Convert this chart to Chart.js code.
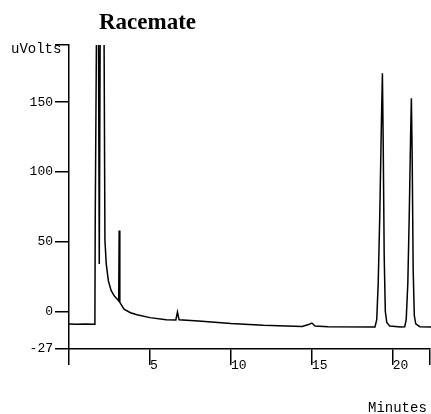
<!DOCTYPE html>
<html><head><meta charset="utf-8">
<script src="https://cdn.jsdelivr.net/npm/chart.js@4"></script>
<style>html,body{margin:0;padding:0;background:#fff;overflow:hidden}#wrap{width:431px;height:414px;position:relative;background:#fff}</style>
</head><body><div id="wrap"><canvas id="c" width="431" height="414"></canvas></div>
<script>
// Retention time (minutes)
const times = [0, 0.5, 1.0, 1.55, 1.60, 1.62, 1.72, 1.81, 1.87, 1.94, 2.15, 2.22, 2.30, 2.43, 2.60, 2.80, 3.00, 3.07, 3.10, 3.14, 3.40, 3.80, 4.20, 5.00, 6.00, 6.60, 6.70, 6.80, 8.00, 10.00, 12.00, 14.40, 14.80, 15.00, 15.20, 16.00, 18.90, 19.01, 19.10, 19.20, 19.29, 19.36, 19.41, 19.47, 19.54, 19.63, 19.81, 20.50, 20.74, 20.83, 20.93, 21.02, 21.10, 21.15, 21.20, 21.26, 21.33, 21.42, 21.67, 22.40];
// Detector signal (uVolts)
const uvolts = [-9.0, -9.2, -9.0, -9.3, -8, 65, 240, 240, 34, 240, 240, 51, 34, 22, 15, 11, 8.5, 7.5, 58, 6.5, 1.5, -1, -2.5, -4.5, -6, -6.2, -0.5, -6, -7, -8.8, -10, -10.8, -9.5, -8.4, -10.5, -11, -11.2, -6, 20, 70, 130, 170.7, 120, 40, 0, -8, -10.5, -11.2, -11, -6, 20, 70, 125, 152.8, 110, 30, -3, -9, -11, -11.2];
const xTicks = [0, 5, 10, 15, 20, 22.3];
const xLabels = ['', '5', '10', '15', '20', ''];
const yTicks = [-27, 0, 50, 100, 150, 191];
const yLabels = ['-27', '0', '50', '100', '150', ''];
const titleText = 'Racemate';
const yUnit = 'uVolts';
const xUnit = 'Minutes';

const textPlugin = {
  id: 'texts',
  afterDraw(chart) {
    const ctx = chart.ctx;
    ctx.save();
    ctx.fillStyle = '#000';
    ctx.textBaseline = 'alphabetic';
    ctx.textAlign = 'left';
    ctx.font = 'bold 23px "Liberation Serif"';
    ctx.fillText(titleText, 99, 29);
    ctx.font = '14px "Liberation Mono"';
    ctx.fillText(yUnit, 11, 53);
    ctx.fillText(xUnit, 368, 412);
    ctx.restore();
  }
};

new Chart(document.getElementById('c'), {
  type: 'line',
  data: {
    datasets: [{
      data: times.map((t, i) => ({x: t, y: uvolts[i]})),
      borderColor: '#000',
      borderWidth: 1.5,
      pointRadius: 0,
      tension: 0,
      fill: false,
      clip: {left: 0, top: 0, right: 5, bottom: 0}
    }]
  },
  options: {
    responsive: false,
    animation: false,
    devicePixelRatio: 1,
    layout: {padding: {top: 45, left: 0, right: 1, bottom: 0}},
    plugins: {legend: {display: false}, tooltip: {enabled: false}, title: {display: false}},
    scales: {
      x: {
        type: 'linear', min: 0, max: 22.3,
        border: {display: true, color: '#000', width: 1.5},
        grid: {display: true, drawOnChartArea: false, drawTicks: true, tickLength: 16, color: '#000', lineWidth: 1.5},
        afterBuildTicks: s => { s.ticks = xTicks.map(v => ({value: v})); },
        afterFit: s => { s.height = 65; },
        ticks: {align: 'start', padding: -7, autoSkip: false, maxRotation: 0, color: '#000',
          font: {family: 'Liberation Mono', size: 13},
          callback: (v, i) => xLabels[i]}
      },
      y: {
        type: 'linear', min: -27, max: 191,
        border: {display: true, color: '#000', width: 1.5},
        grid: {display: true, drawOnChartArea: false, drawTicks: true, tickLength: 14, color: '#000', lineWidth: 1.5},
        afterBuildTicks: s => { s.ticks = yTicks.map(v => ({value: v})); },
        afterFit: s => { s.width = 69; },
        ticks: {padding: 2, autoSkip: false, color: '#000',
          font: {family: 'Liberation Mono', size: 13},
          callback: (v, i) => yLabels[i]}
      }
    }
  },
  plugins: [textPlugin]
});
</script>
</body></html>
